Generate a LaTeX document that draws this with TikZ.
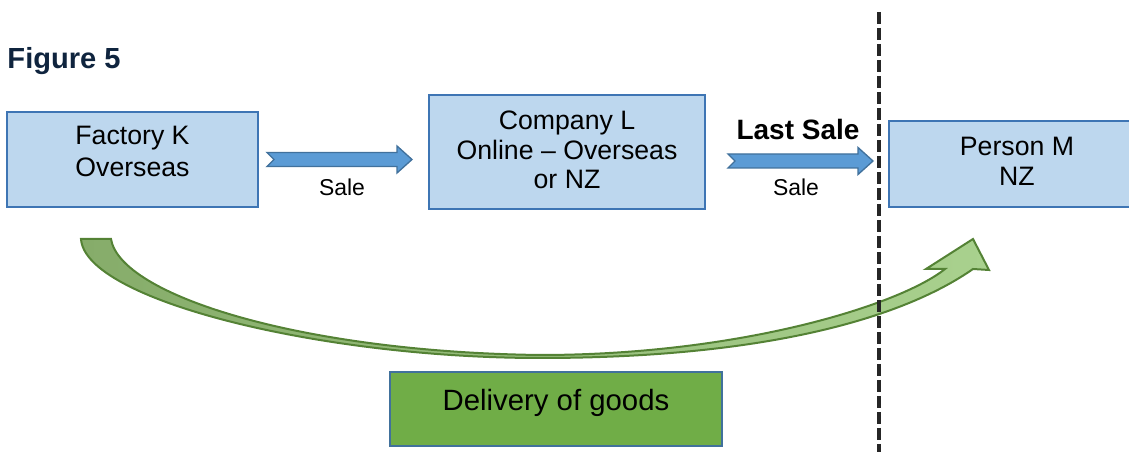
\documentclass[tikz,border=0pt]{standalone}
\usepackage{fontspec}
\setmainfont{Liberation Sans}
\usetikzlibrary{calc}

\definecolor{titleblue}{RGB}{15,36,62}
\definecolor{boxedge}{RGB}{62,117,180}
\definecolor{boxfill}{RGB}{189,215,238}
\definecolor{arrowedge}{RGB}{65,113,156}
\definecolor{arrowfill}{RGB}{91,155,213}
\definecolor{goodsedge}{RGB}{84,130,53}
\definecolor{goodsdark}{RGB}{134,172,106}
\definecolor{goodslight}{RGB}{169,209,142}
\definecolor{goodsfill}{RGB}{112,173,71}
\definecolor{borderdash}{RGB}{38,38,38}

\tikzset{every picture/.style={line width=0.75pt}}
\tikzset{
  partybox/.style={draw=boxedge, line width=1.5pt, fill=boxfill, inner sep=0pt},
  partytext/.style={align=center, inner sep=0pt, font=\fontsize{20}{23}\selectfont},
  salearrow/.style={draw=arrowedge, line width=1pt, fill=arrowfill},
  saletext/.style={anchor=base, inner sep=0pt, font=\fontsize{17.2}{20}\selectfont},
  goodsarrow/.style={draw=goodsedge, line width=1.5pt, left color=goodsdark, right color=goodslight},
  goodsbox/.style={draw=arrowedge, line width=1.5pt, fill=goodsfill, inner sep=0pt},
  borderline/.style={draw=borderdash, line width=3pt, dash pattern=on 9pt off 3pt}
}

% notched block arrow from tail #1 to tip #2
\newcommand{\salearrow}[2]{%
  \draw[salearrow] ($(#1)+(0,-7)$) -- ($(#2)+(-15,-7)$) -- ($(#2)+(-15,-13.5)$) -- (#2)
    -- ($(#2)+(-15,13.5)$) -- ($(#2)+(-15,7)$) -- ($(#1)+(0,7)$) -- ($(#1)+(7,0)$) -- cycle ;}

\begin{document}
\begin{tikzpicture}[x=0.75pt,y=0.75pt,yscale=-1,xscale=1]
\useasboundingbox (0,0) rectangle (1129,452);
\clip (0,0) rectangle (1129,452);

% Text Node
\node[anchor=base west, inner sep=0pt, text=titleblue, font=\fontsize{21.8}{26}\selectfont\bfseries] (title) at (7,69) {Figure 5};

%Shape: Rectangle
\node[partybox, minimum width=188.25pt, minimum height=71.25pt] (factory) at (132.5,159.5) {};
%Shape: Rectangle
\node[partybox, minimum width=207pt, minimum height=85.5pt] (company) at (567,152) {};
%Shape: Rectangle
\node[partybox, minimum width=192pt, minimum height=64.5pt] (person) at (1017,164) {};

% Text Node
\node[partytext, font=\fontsize{20}{24}\selectfont] (factorytext) at (132.5,151.5) {Factory K\\Overseas};
% Text Node
\node[partytext, font=\fontsize{20}{22.2}\selectfont] (companytext) at (567,150) {Company L\\Online -- Overseas\\or NZ};
% Text Node
\node[partytext, font=\fontsize{20}{22.5}\selectfont] (persontext) at (1017,161.5) {Person M\\NZ};

%Block Arrows
\coordinate (sale1tail) at ($(factory.east)+(8,0)$);
\coordinate (sale1tip) at ($(company.west)+(-16,7.5)$);
\coordinate (sale2tail) at ($(company.east)+(22,9)$);
\coordinate (sale2tip) at ($(person.west)+(-15,-3)$);
\salearrow{sale1tail}{sale1tip}
\salearrow{sale2tail}{sale2tip}

% Text Node
\node[saletext] (sale1) at (342,196) {Sale};
% Text Node
\node[saletext] (sale2) at (796,196) {Sale};
% Text Node
\node[anchor=base, inner sep=0pt, font=\fontsize{21}{25}\selectfont\bfseries] (lastsale) at (798,140) {Last Sale};

%Curved Arrow
\draw[goodsarrow] (81,239) .. controls (85,300) and (320,358) .. (540,358) .. controls (760,358) and (900,320) .. (973,269) -- (989,270) -- (973,239) -- (926,269) -- (945,269) .. controls (900,305) and (740,355) .. (540,355) .. controls (300,352) and (120,295) .. (111,239) -- cycle ;

%Shape: Rectangle
\node[goodsbox, minimum width=249pt, minimum height=55.5pt] (delivery) at (556,409) {};
% Text Node
\node[anchor=base, inner sep=0pt, font=\fontsize{22}{26}\selectfont] (deliverytext) at (556,411) {Delivery of goods};

%Straight Lines
\draw[borderline] (878.5,12) -- (878.5,452) ;

\end{tikzpicture}
\end{document}
